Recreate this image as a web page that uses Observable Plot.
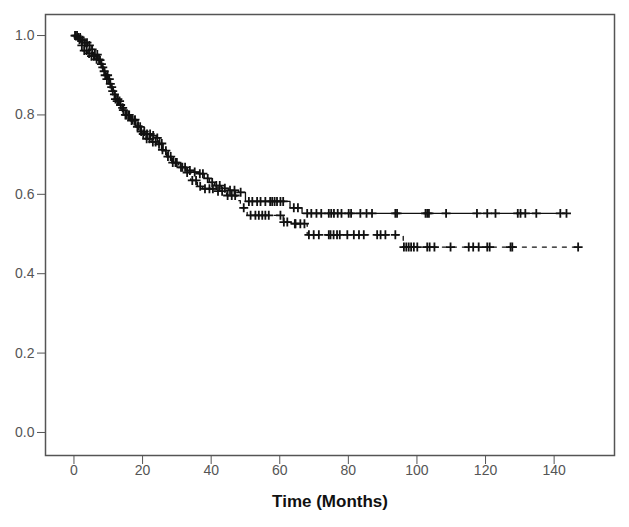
<!DOCTYPE html>
<html>
<head>
<meta charset="utf-8">
<script src="https://cdn.jsdelivr.net/npm/d3@7"></script>
<script src="https://cdn.jsdelivr.net/npm/@observablehq/plot@0.6"></script>
<style>
  html, body { margin: 0; padding: 0; background: #fff; }
  #chart svg { display: block; font-family: "Liberation Sans", Arial, sans-serif; }
</style>
</head>
<body>
<div id="chart"></div>
<script>
// Step points of the two survival curves (time in months, cumulative survival)
const solidT = [0,1,2,3,4,5,6,7,8,9,10,11,12,13,14,15,16.5,18,19.5,21,22.5,24,25,26,27.5,29,31,33,35,36.5,38,39.5,41,43,45,48,50,63,66.5,143.6];
const solidS = [1,0.995,0.988,0.982,0.975,0.965,0.952,0.938,0.92,0.9,0.878,0.86,0.84,0.825,0.812,0.8,0.788,0.772,0.758,0.752,0.748,0.742,0.728,0.71,0.695,0.68,0.668,0.66,0.656,0.652,0.64,0.63,0.622,0.615,0.61,0.605,0.582,0.566,0.552,0.552];

const dashedT = [0,1,2,3,4,5,6,7.5,8.5,9.5,10.5,11.5,12.5,13.5,15,16.5,18,19.5,21,22.5,24,25.5,27,28.5,30.5,32.5,34,36,37.5,41,44.5,47.5,48.5,50.5,61,63.5,68,96,147];
const dashedS = [1,0.99,0.975,0.962,0.955,0.948,0.94,0.928,0.91,0.89,0.87,0.852,0.835,0.818,0.8,0.786,0.77,0.752,0.74,0.732,0.726,0.712,0.695,0.68,0.668,0.655,0.635,0.62,0.614,0.608,0.597,0.584,0.566,0.547,0.53,0.526,0.498,0.467,0.467];

// Censoring times for each curve
const solidCensor = [0.5,1.2,1.8,2.5,3.2,3.8,4.5,5.3,6.1,6.8,7.6,8.4,9.1,9.8,10.6,11.3,12.1,12.8,13.6,14.4,15.3,16.1,17,17.8,18.7,19.6,20.5,21.3,22.2,23.1,24.3,25.6,26.8,28.2,29.6,31.2,32.4,33.8,35.2,36.7,37.6,39,40.3,41.5,42.5,44,45.5,46.8,48.6,51,52,53.4,54.4,55.8,57.2,57.8,58.5,59.2,60.2,61,64.1,65.3,68,69.2,70.7,72.1,74.3,75,75.8,76.9,78,80.1,80.8,83.5,85.3,86.9,93.7,94.2,102.5,103,103.5,108.5,117.5,120.5,122.9,129.4,130.2,131.6,134.8,141.8,143.6];
const dashedCensor = [0.3,0.9,1.6,2.3,3,3.7,4.4,5.1,5.8,6.6,7.3,8,8.8,9.6,10.3,11,11.8,12.6,13.3,14.2,15,15.8,16.8,17.6,18.5,19.3,20.2,21.2,22,23,23.8,24.8,25.8,27.4,28.8,30,31.6,33,34.5,35.6,36.8,38.2,39.5,40.5,42,43.2,44.8,46,47,49.5,51.5,52.9,53.9,54.9,55.8,56.8,60.2,61.2,62.2,64.4,64.6,66,67.2,68.5,69.9,71.4,74.3,74.8,75.7,76.7,77.5,79.7,81.6,83.1,84.5,88.4,89.4,90.8,93.7,96.2,96.9,97.6,98.3,99.1,100.1,103,103.7,105.1,109.8,115.1,116.4,118,120.5,121.2,127.3,127.8,147];

const xTicks = [0,20,40,60,80,100,120,140];
const yTicks = [0,0.2,0.4,0.6,0.8,1.0];
const xLabel = "Time (Months)";

// Build tables
const solidLine = solidT.map((t, i) => ({t, s: solidS[i]}));
const dashedLine = dashedT.map((t, i) => ({t, s: dashedS[i]}));
function lookup(T, S, t) {
  let v = S[0];
  for (let i = 0; i < T.length; i++) { if (T[i] <= t) v = S[i]; else break; }
  return v;
}
const solidMarks = solidCensor.map(t => ({t, s: lookup(solidT, solidS, t)}));
const dashedMarks = dashedCensor.map(t => ({t, s: lookup(dashedT, dashedS, t)}));

const chart = Plot.plot({
  width: 629,
  height: 527,
  marginLeft: 45,
  marginRight: 15,
  marginTop: 14,
  marginBottom: 72,
  style: {fontFamily: "'Liberation Sans', Arial, sans-serif", background: "#fff"},
  x: {domain: [-8.3, 157.6]},
  y: {domain: [-0.058, 1.053]},
  marks: [
    Plot.frame({stroke: "#555", strokeWidth: 1.5}),
    Plot.axisX({ticks: xTicks, tickSize: 9, tickFormat: () => "", label: null, stroke: "#555"}),
    Plot.axisY({ticks: yTicks, tickSize: 8, tickFormat: () => "", label: null, stroke: "#555"}),
    Plot.text(xTicks, {x: d => d, frameAnchor: "bottom", dy: 19, text: d => String(d), fontSize: 14, fill: "#555"}),
    Plot.text(yTicks, {y: d => d, frameAnchor: "left", dx: -11, textAnchor: "end", text: d => d3.format(".1f")(d), fontSize: 14, fill: "#555"}),
    Plot.line(solidLine, {x: "t", y: "s", curve: "step-after", stroke: "#111", strokeWidth: 1.3}),
    Plot.line(dashedLine, {x: "t", y: "s", curve: "step-after", stroke: "#111", strokeWidth: 1.3, strokeDasharray: "4,6"}),
    Plot.dot(solidMarks, {x: "t", y: "s", symbol: "plus", r: 3, stroke: "#111", strokeWidth: 1.8}),
    Plot.dot(dashedMarks, {x: "t", y: "s", symbol: "plus", r: 3, stroke: "#111", strokeWidth: 1.8}),
    Plot.text([xLabel], {frameAnchor: "bottom", dy: 51, text: d => d, fontSize: 17, fontWeight: "bold", fill: "#111"})
  ]
});
document.getElementById("chart").appendChild(chart);
</script>
</body>
</html>
